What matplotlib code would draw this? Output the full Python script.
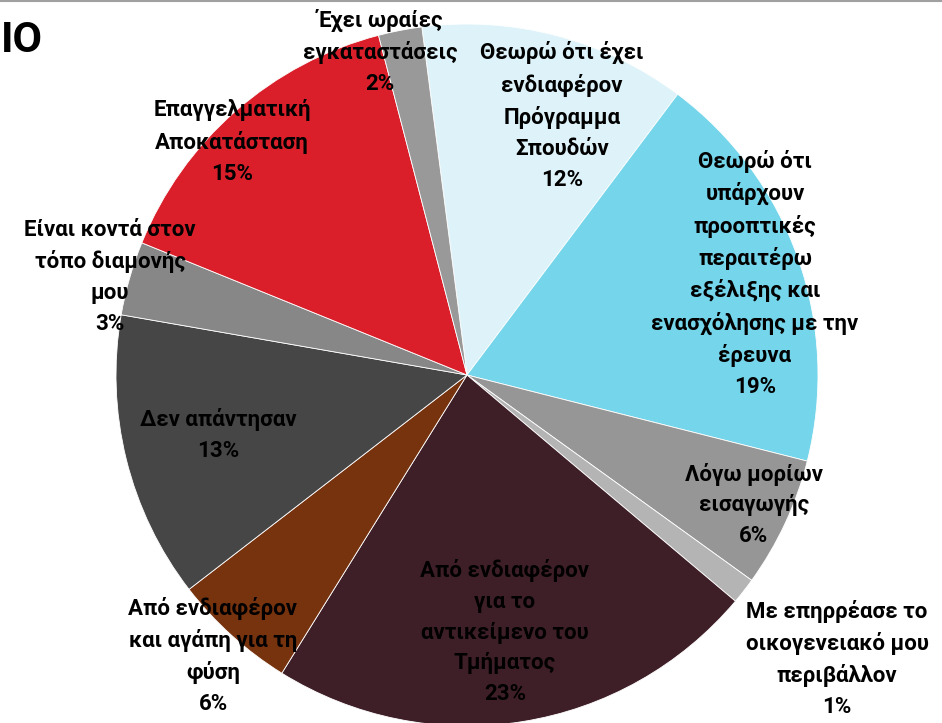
import matplotlib
matplotlib.use("Agg")
import matplotlib.pyplot as plt

plt.rcParams['font.family'] = ['Roboto', 'Open Sans', 'DejaVu Sans']

categories = [
    "Θεωρώ ότι έχει\nενδιαφέρον\nΠρόγραμμα\nΣπουδών",
    "Θεωρώ ότι\nυπάρχουν\nπροοπτικές\nπεραιτέρω\nεξέλιξης και\nενασχόλησης με την\nέρευνα",
    "Λόγω μορίων\nεισαγωγής",
    "Με επηρρέασε το\nοικογενειακό μου\nπεριβάλλον",
    "Από ενδιαφέρον\nγια το\nαντικείμενο του\nΤμήματος",
    "Από ενδιαφέρον\nκαι αγάπη για τη\nφύση",
    "Δεν απάντησαν",
    "Είναι κοντά στον\nτόπο διαμονής\nμου",
    "Επαγγελματική\nΑποκατάσταση",
    "Έχει ωραίες\nεγκαταστάσεις",
]
values = [12.3, 18.7, 6.0, 1.2, 22.7, 5.7, 13.2, 3.4, 14.8, 2.0]
colors = ["#DDF3F9", "#75D5EA", "#969696", "#B4B4B4", "#3F1F27",
          "#77320E", "#464646", "#878787", "#DA1F2A", "#999999"]

# label anchor positions in pixel space (layout)
label_px = [(562, 116), (755, 274), (754, 505), (837, 659), (505, 632),
            (213, 656), (218, 435), (110, 277), (232, 142), (380, 52)]

W, H = 942, 723
CX, CY, R = 467, 375, 351

fig = plt.figure(figsize=(W / 100, H / 100), dpi=100)
ax = fig.add_axes([0, 0, 1, 1])
ax.pie(values, colors=colors, startangle=97.4, counterclock=False,
       wedgeprops=dict(edgecolor="white", linewidth=0.6))
ax.set_xlim(-CX / R, (W - CX) / R)
ax.set_ylim(-(H - CY) / R, CY / R)
ax.set_aspect('equal', adjustable='box')
ax.axis('off')

total = sum(values)
for cat, v, (px, py) in zip(categories, values, label_px):
    txt = f"{cat}\n{round(v / total * 100)}%"
    ax.text((px - CX) / R, (CY - py) / R, txt, ha='center', va='center',
            fontsize=16, fontweight='bold', color='black', linespacing=1.52)

fig.text(1 / W, 1 - 41 / H, "ΙΟ", fontsize=31, fontweight='bold',
         ha='left', va='center')
fig.add_artist(plt.Line2D([0, 1], [1 - 0.5 / H, 1 - 0.5 / H],
                          transform=fig.transFigure, color="#A0A0A0", lw=1.5))

fig.savefig("out.png", dpi=100)
